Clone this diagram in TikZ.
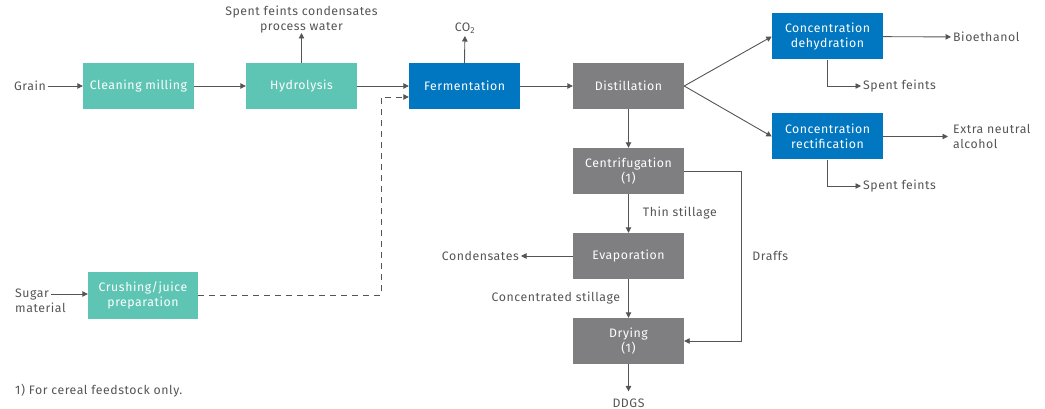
\documentclass[tikz,border=0pt]{standalone}
\usepackage{fontspec}
\setmainfont{Fira Sans}[LetterSpace=4.5]
\usetikzlibrary{arrows.meta}
\usetikzlibrary{positioning}

\definecolor{prepgreen}{HTML}{5EC4B4}
\definecolor{fermblue}{HTML}{0077C0}
\definecolor{distgray}{HTML}{7F7F82}
\definecolor{linegray}{HTML}{555555}
\definecolor{txtgray}{HTML}{555555}

\begin{document}
\begin{tikzpicture}[x=1pt, y=-1pt, font=\fontsize{12.3}{15}\selectfont,
    every node/.style={text=txtgray, inner sep=2pt},
    box/.style={minimum width=111pt, minimum height=46pt, text=white, align=center, inner sep=0pt},
    greenbox/.style={box, fill=prepgreen},
    bluebox/.style={box, fill=fermblue},
    graybox/.style={box, fill=distgray},
    flow/.style={draw=linegray, line width=0.9pt, -{Triangle[length=5.5pt, width=5.5pt]}}]
  \useasboundingbox (0,0) rectangle (1045,409);

  % process boxes
  \node[greenbox] (clean) at (138.5, 86) {Cleaning milling};
  \node[greenbox] (hydro) at (301.5, 86) {Hydrolysis};
  \node[bluebox] (ferm) at (464.5, 86) {Fermentation};
  \node[graybox] (dist) at (628.5, 86) {Distillation};
  \node[bluebox] (dehyd) at (827.5, 36.5) {Concentration\\dehydration};
  \node[bluebox] (rect) at (827.5, 136.5) {Concentration\\rectification};
  \node[graybox] (centri) at (628.5, 171) {Centrifugation\\(1)};
  \node[graybox] (evap) at (628.5, 256) {Evaporation};
  \node[graybox] (dry) at (628.5, 341) {Drying\\(1)};
  \node[greenbox, minimum width=110pt, minimum height=47pt] (crush) at (143, 295.5) {Crushing/juice\\preparation};

  % inputs and outputs
  \node[anchor=east] (grain) at (48, 86) {Grain};
  \node[align=left, anchor=west, inner sep=0pt] (sugar) at (15, 301) {Sugar\\material};
  \coordinate (sugarin) at (51, 294);
  \node[align=center, anchor=south, inner sep=0pt] (water) at (301.5, 33) {Spent feints condensates\\process water};
  \node[anchor=south] (co2) at (465, 36) {CO\textsubscript{2}};
  \node[anchor=west] (bioeth) at (951, 37) {Bioethanol};
  \node[anchor=west] (sf1) at (861, 86) {Spent feints};
  \node[anchor=west, align=left, inner sep=0pt] (ena) at (953, 136.5) {Extra neutral\\alcohol};
  \coordinate (enain) at (948, 136.5);
  \node[anchor=west] (sf2) at (861, 186) {Spent feints};
  \node[anchor=east] (cond) at (521, 256) {Condensates};
  \node (ddgs) at (628.5, 403) {DDGS};
  \node[anchor=west, inner sep=0pt] (foot) at (15, 391) {1) For cereal feedstock only.};

  % connectors
  \draw[flow] (grain) -- (clean);
  \draw[flow] (sugarin) -- (sugarin -| crush.west);
  \draw[flow] (clean) -- (hydro);
  \draw[flow] (hydro.north) -- (water);
  \draw[flow] (hydro) -- (ferm);
  \draw[flow] (ferm.north) -- (co2);
  \coordinate (dashbend) at (381, 97);
  \draw[flow, dashed, dash pattern=on 6pt off 5pt] (crush.east) -- (crush.east -| dashbend) -- (dashbend) -- (dashbend -| ferm.west);
  \draw[flow] (ferm) -- (dist);
  \draw[flow] (dist.east) -- (dehyd.west);
  \draw[flow] (dist.east) -- (rect.west);
  \draw[flow] (dehyd) -- (bioeth);
  \draw[flow] (dehyd.south) |- (sf1.west);
  \draw[flow] (rect.east) -- (enain);
  \draw[flow] (rect.south) |- (sf2.west);
  \draw[flow] (dist) -- (centri);
  \draw[flow] (centri) -- node[right=12pt] {Thin stillage} (evap);
  \draw[flow] (evap) -- (cond);
  \draw[flow] (evap) -- node[left=6pt] {Concentrated stillage} (dry);
  \coordinate (draffbend) at (741, 171);
  \draw[flow] (centri.east) -- (draffbend) |- node[pos=0.25, right=9pt] {Draffs} (dry.east);
  \draw[flow, shorten >=5pt] (dry) -- (ddgs);
\end{tikzpicture}
\end{document}
